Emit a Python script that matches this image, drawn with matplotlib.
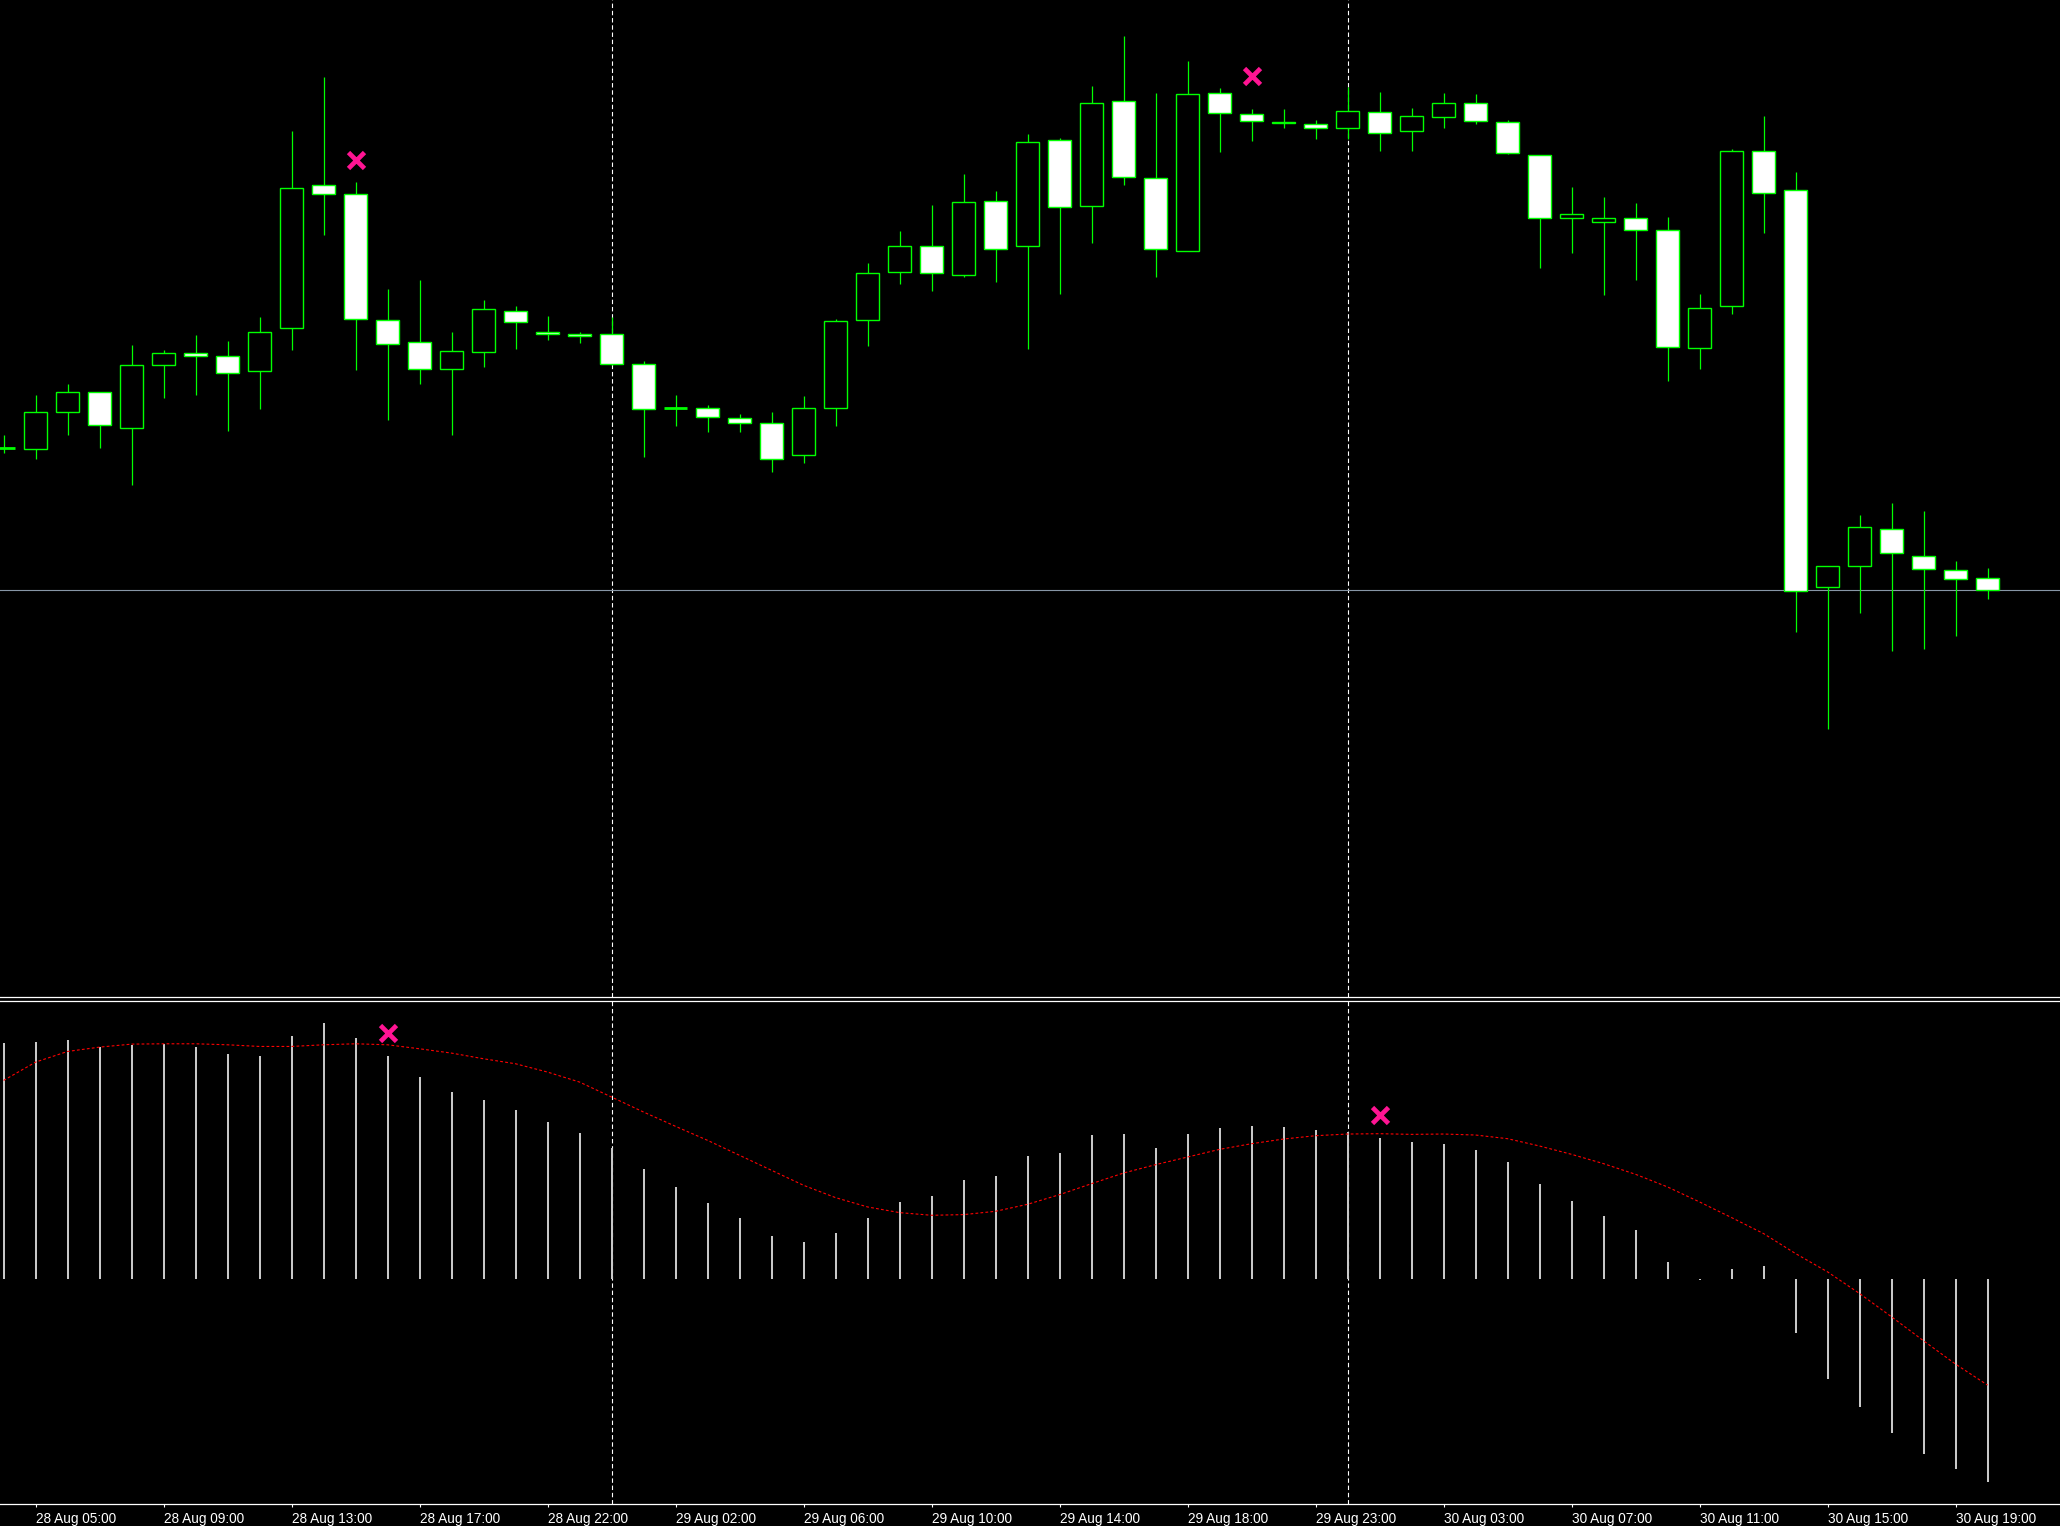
import matplotlib
matplotlib.use("Agg")
import matplotlib.pyplot as plt
import numpy as np
import pandas as pd

# ---------------- data ----------------
# hourly bars, 28 Aug 04:00 -> 30 Aug 20:00 (no 21:00 bars in the feed)
hours = pd.date_range("2024-08-28 04:00", "2024-08-30 20:00", freq="h")
bar_times = hours[hours.hour != 21]

open_ = [1.10810, 1.10807, 1.10887, 1.10931, 1.10853, 1.10990, 1.11016, 1.11009, 1.10977, 1.11070,
         1.11380, 1.11362, 1.11088, 1.11040, 1.10981, 1.11018, 1.11107, 1.11062, 1.11057, 1.11057,
         1.10992, 1.10895, 1.10896, 1.10874, 1.10864, 1.10794, 1.10896, 1.11088, 1.11192, 1.11249,
         1.11186, 1.11347, 1.11249, 1.11480, 1.11336, 1.11563, 1.11397, 1.11238, 1.11582, 1.11536,
         1.11519, 1.11513, 1.11504, 1.11539, 1.11499, 1.11528, 1.11560, 1.11519, 1.11447, 1.11310,
         1.11301, 1.11310, 1.11284, 1.11027, 1.11118, 1.11454, 1.11371, 1.10506, 1.10552, 1.10633,
         1.10574, 1.10543, 1.10526]

high = [1.10837, 1.10925, 1.10948, 1.10931, 1.11033, 1.11023, 1.11055, 1.11042, 1.11094, 1.11499,
        1.11615, 1.11388, 1.11155, 1.11175, 1.11062, 1.11131, 1.11118, 1.11097, 1.11062, 1.11094,
        1.10999, 1.10925, 1.10903, 1.10883, 1.10887, 1.10922, 1.11089, 1.11212, 1.11282, 1.11338,
        1.11404, 1.11367, 1.11493, 1.11484, 1.11597, 1.11706, 1.11582, 1.11650, 1.11591, 1.11547,
        1.11546, 1.11522, 1.11595, 1.11583, 1.11548, 1.11581, 1.11578, 1.11522, 1.11447, 1.11376,
        1.11355, 1.11341, 1.11311, 1.11144, 1.11460, 1.11531, 1.11409, 1.10552, 1.10664, 1.10690,
        1.10671, 1.10563, 1.10549]

low = [1.10797, 1.10785, 1.10837, 1.10809, 1.10728, 1.10918, 1.10924, 1.10846, 1.10894, 1.11022,
       1.11273, 1.10979, 1.10870, 1.10948, 1.10837, 1.10985, 1.11024, 1.11043, 1.11037, 1.10990,
       1.10790, 1.10857, 1.10844, 1.10844, 1.10757, 1.10776, 1.10857, 1.11030, 1.11165, 1.11150,
       1.11180, 1.11169, 1.11024, 1.11143, 1.11254, 1.11381, 1.11182, 1.11238, 1.11453, 1.11476,
       1.11505, 1.11481, 1.11481, 1.11455, 1.11455, 1.11505, 1.11514, 1.11448, 1.11200, 1.11233,
       1.11141, 1.11174, 1.10954, 1.10980, 1.11100, 1.11276, 1.10409, 1.10198, 1.10449, 1.10368,
       1.10372, 1.10401, 1.10481]

close = [1.10810, 1.10887, 1.10931, 1.10859, 1.10990, 1.11016, 1.11009, 1.10972, 1.11062, 1.11375,
         1.11362, 1.11090, 1.11035, 1.10981, 1.11020, 1.11112, 1.11083, 1.11057, 1.11053, 1.10992,
         1.10894, 1.10895, 1.10877, 1.10864, 1.10785, 1.10896, 1.11086, 1.11190, 1.11249, 1.11190,
         1.11345, 1.11242, 1.11475, 1.11334, 1.11560, 1.11399, 1.11242, 1.11578, 1.11538, 1.11520,
         1.11515, 1.11504, 1.11541, 1.11495, 1.11532, 1.11560, 1.11521, 1.11451, 1.11310, 1.11319,
         1.11310, 1.11284, 1.11029, 1.11114, 1.11454, 1.11364, 1.10497, 1.10552, 1.10637, 1.10580,
         1.10546, 1.10524, 1.10500]

bid_price = 1.10500

macd_hist = [707, 710, 716, 695, 701, 704, 695, 674, 668, 728,
             767, 722, 668, 605, 560, 536, 506, 470, 437, 392,
             329, 275, 227, 182, 128, 110, 137, 182, 230, 248,
             296, 308, 368, 377, 431, 434, 392, 434, 452, 458,
             455, 446, 440, 422, 410, 404, 386, 350, 284, 233,
             188, 146, 50, -4, 29, 38, -162, -300, -384, -462,
             -525, -570, -609]          # x 1e-6

macd_signal = [596, 651, 683, 696, 705, 706, 706, 703, 698, 698,
               703, 706, 703, 691, 678, 661, 646, 621, 591, 546,
               501, 458, 416, 371, 326, 281, 244, 216, 199, 191,
               193, 203, 224, 253, 286, 318, 343, 366, 389, 406,
               420, 430, 435, 436, 434, 435, 432, 421, 399, 374,
               346, 314, 276, 231, 184, 136, 76, 21, -44, -114,
               -186, -256, -319]        # x 1e-6

price_arrow_bars = [11, 39]
price_arrow_values = [1.11435, 1.11618]
macd_arrow_bars = [12, 43]
macd_arrow_values = [738, 493]           # x 1e-6

# ---------------- styling ----------------
W, H = 2060, 1526
BG = "black"
GREEN = "#00ff00"
PINK = "#ff1493"

fig = plt.figure(figsize=(W / 100, H / 100), dpi=100, facecolor=BG)
ax = fig.add_axes([0, 1 - 997 / H, 1, 997 / H], facecolor=BG)
axm = fig.add_axes([0, 1 - 1504 / H, 1, 503.5 / H], facecolor=BG)

n = len(open_)
x = np.arange(n)
o = np.array(open_); h = np.array(high); l = np.array(low); c = np.array(close)
hist = np.array(macd_hist) * 1e-6
sig = np.array(macd_signal) * 1e-6

# day separators
day_sep = [i for i in range(1, n) if bar_times[i].date() != bar_times[i - 1].date()]
for a in (ax, axm):
    for i in day_sep:
        a.axvline(i, color="white", lw=0.8, ls=(0, (4, 2.5)), zorder=1)

# bid line
ax.axhline(bid_price, color="#8796a6", lw=0.8, zorder=1.5)

# candles
ax.vlines(x, l, h, colors=GREEN, lw=0.9, zorder=2)
bull = c > o
bear = c < o
doji = c == o
bw = 0.74
ax.bar(x[bull], (c - o)[bull], bottom=o[bull], width=bw, color="black",
       edgecolor=GREEN, linewidth=1.0, zorder=3)
ax.bar(x[bear], (o - c)[bear], bottom=c[bear], width=bw, color="white",
       edgecolor=GREEN, linewidth=1.0, zorder=3)
ax.hlines(c[doji], x[doji] - bw / 2, x[doji] + bw / 2, colors=GREEN, lw=2.0, zorder=3)

ax.plot(price_arrow_bars, price_arrow_values, ls="none", marker="x",
        ms=11, mew=3.4, color=PINK, zorder=4)

# MACD
axm.vlines(x, 0, hist, colors="#c8c8c8", lw=1.45, zorder=2)
axm.plot(x, sig, color="#ff0000", lw=0.8, ls=(0, (2.5, 2)), zorder=3)
axm.plot(macd_arrow_bars, np.array(macd_arrow_values) * 1e-6, ls="none", marker="x",
         ms=11, mew=3.4, color=PINK, zorder=4)

# limits
xl = (-3.6 / 32, (W - 3.6) / 32)
ax.set_xlim(*xl)
axm.set_xlim(*xl)
ax.set_ylim(1.096147, 1.117835)
axm.set_ylim(-0.000676, 0.000836)

# spines & ticks
for a in (ax, axm):
    for s in a.spines.values():
        s.set_visible(False)
ax.spines["bottom"].set_visible(True)
ax.spines["bottom"].set_color("white")
ax.spines["bottom"].set_linewidth(0.9)
axm.spines["top"].set_visible(True)
axm.spines["top"].set_color("white")
axm.spines["top"].set_linewidth(0.9)
axm.spines["bottom"].set_visible(True)
axm.spines["bottom"].set_color("white")
axm.spines["bottom"].set_linewidth(0.9)

ax.set_xticks([]); ax.set_yticks([])
axm.set_yticks([])
tick_bars = list(range(1, n, 4))
axm.set_xticks(tick_bars)
axm.set_xticklabels([bar_times[i].strftime("%d %b %H:%M") for i in tick_bars],
                    family=["Liberation Sans", "DejaVu Sans"], fontsize=9.8,
                    color="white", ha="left")
axm.tick_params(axis="x", direction="out", length=2.5, width=0.8, color="white", pad=3.0)

fig.savefig("out.png", dpi=100, facecolor=BG)
